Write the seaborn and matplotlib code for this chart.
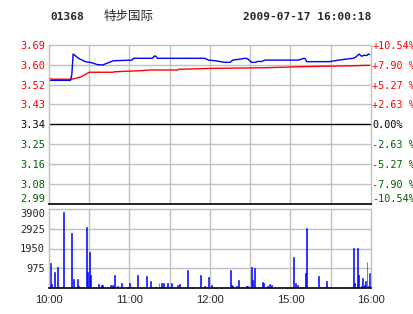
import numpy as np
import pandas as pd
import matplotlib
matplotlib.use("Agg")
import matplotlib.pyplot as plt
import seaborn as sns

# ---------------- data ----------------
code = "01368"
name = "特步国际"
stamp = "2009-07-17 16:00:18"
prev_close = 3.34

# minutes since 10:00 on a trading-time axis (10:00-12:30, 14:30-16:00 -> 0..240)
price_t = [0, 16, 17, 18, 22, 27, 32, 36, 40, 44, 48, 62, 63, 77, 78, 79, 81, 116, 119, 124,
           131, 135, 137, 142, 146, 148, 151, 154, 156, 158, 161, 186, 190, 191, 192, 209,
           216, 221, 227, 229, 231, 233, 235, 237, 238, 239]
price_v = [3.535, 3.535, 3.560, 3.652, 3.633, 3.618, 3.613, 3.605, 3.603, 3.613, 3.622, 3.625,
           3.633, 3.633, 3.640, 3.644, 3.633, 3.633, 3.625, 3.622, 3.615, 3.615, 3.625, 3.629,
           3.633, 3.631, 3.615, 3.615, 3.620, 3.618, 3.625, 3.625, 3.633, 3.631, 3.618, 3.618,
           3.625, 3.629, 3.633, 3.640, 3.652, 3.642, 3.647, 3.645, 3.652, 3.649]

avg_t = [0, 2, 17, 20, 24, 30, 48, 48.5, 69, 75, 96, 96.5, 120, 161, 190, 228, 239]
avg_v = [3.547, 3.540, 3.540, 3.544, 3.551, 3.571, 3.571, 3.573, 3.578, 3.581, 3.581, 3.584,
         3.588, 3.591, 3.596, 3.600, 3.602]

vol_t = [0, 1, 2, 4, 6, 11, 17, 18, 21, 22, 28, 29, 30, 31, 37, 39, 40, 46, 47, 49, 51, 54,
         60, 66, 73, 76, 79, 82, 84, 85, 88, 91, 96, 97, 103, 113, 116, 119, 121, 135, 136,
         137, 140, 141, 147, 148, 151, 152, 153, 159, 160, 163, 164, 166, 182, 184, 185, 191,
         192, 201, 207, 227, 228, 230, 231, 233, 234, 235, 236, 237, 238, 239]
vol_v = [1240, 1240, 200, 800, 1040, 3760, 2720, 450, 450, 100, 3010, 780, 1780, 640, 200, 160,
         160, 160, 160, 640, 100, 250, 250, 640, 600, 350, 100, 250, 250, 250, 250, 250, 150,
         200, 890, 640, 100, 540, 160, 890, 160, 100, 100, 400, 100, 100, 1040, 400, 990, 280,
         250, 100, 200, 150, 1530, 250, 150, 740, 2960, 590, 350, 1970, 250, 1970, 640, 100,
         500, 150, 350, 1280, 100, 740]

pct_labels = ["+10.54%", "+7.90 %", "+5.27 %", "+2.63 %", "0.00%",
              "-2.63 %", "-5.27 %", "-7.90 %", "-10.54%"]
price_labels = ["3.69", "3.60", "3.52", "3.43", "3.34", "3.25", "3.16", "3.08", "2.99"]
vol_ticks = [975, 1950, 2925, 3900]
time_ticks = [0, 60, 120, 180, 240]
time_labels = ["10:00", "11:00", "12:00", "15:00", "16:00"]

# ---------------- style ----------------
sns.set_style("white")
plt.rcParams["font.family"] = ["DejaVu Sans Mono", "Noto Sans CJK SC"]

GRID = "#c0c0c0"
RED = "#ff0000"
GREEN = "#006000"
W, H = 414, 314

fig = plt.figure(figsize=(W / 100, H / 100), dpi=100)
fig.patch.set_facecolor("white")

def frac(x0, y0, x1, y1):
    return [x0 / W, 1 - y1 / H, (x1 - x0) / W, (y1 - y0) / H]

axp = fig.add_axes(frac(49, 45, 371, 203.5))
axv = fig.add_axes(frac(49, 209, 371, 288))

span = 0.352
levels = prev_close + span * np.linspace(1, -1, 9)

# price panel
for t in range(30, 240, 30):
    axp.axvline(t, color=GRID, lw=1, zorder=0)
for lv in levels[1:-1]:
    axp.axhline(lv, color="black" if np.isclose(lv, prev_close) else GRID, lw=1, zorder=0)

df_p = pd.DataFrame({"t": price_t, "p": price_v})
df_a = pd.DataFrame({"t": avg_t, "p": avg_v})
sns.lineplot(data=df_a, x="t", y="p", color=RED, lw=1, estimator=None, sort=False, ax=axp)
sns.lineplot(data=df_p, x="t", y="p", color="blue", lw=1, estimator=None, sort=False, ax=axp)

axp.set_xlim(0, 240)
axp.set_ylim(prev_close - span, prev_close + span)
axp.set_xlabel("")
axp.set_ylabel("")
axp.set_xticks([])
axp.set_yticks(levels)
axp.set_yticklabels(price_labels)
axp.tick_params(axis="y", length=0, pad=3, labelsize=7.5)
for i, lab in enumerate(axp.get_yticklabels()):
    lab.set_color(RED if i < 4 else ("black" if i == 4 else GREEN))
    if i == 8:
        lab.set_va("bottom")
for s in ["left", "top", "right"]:
    axp.spines[s].set_color(GRID)
    axp.spines[s].set_linewidth(1)
axp.spines["bottom"].set_color("black")
axp.spines["bottom"].set_linewidth(1.2)

axr = axp.twinx()
axr.set_ylim(axp.get_ylim())
axr.set_yticks(levels)
axr.set_yticklabels(pct_labels)
axr.tick_params(axis="y", length=0, pad=1, labelsize=7.3)
for i, lab in enumerate(axr.get_yticklabels()):
    lab.set_color(RED if i < 4 else ("black" if i == 4 else GREEN))
    if i == 8:
        lab.set_va("bottom")
for s in axr.spines.values():
    s.set_visible(False)

# volume panel
for t in range(30, 240, 30):
    axv.axvline(t, color=GRID, lw=1, zorder=0)
for v in vol_ticks[:-1]:
    axv.axhline(v, color=GRID, lw=1, zorder=0)

df_v = pd.DataFrame({"t": vol_t, "v": vol_v})
sns.barplot(data=df_v, x="t", y="v", native_scale=True, color="#0000ff", saturation=1,
            width=0.7, linewidth=0.4, edgecolor="#0000ff", ax=axv, zorder=2)
axv.set_xlim(0, 240)
axv.set_ylim(0, 3900)
axv.set_xlabel("")
axv.set_ylabel("")
axv.set_yticks(vol_ticks)
axv.set_yticklabels([str(v) for v in vol_ticks])
axv.tick_params(axis="y", length=0, pad=3, labelsize=7.5)
axv.get_yticklabels()[-1].set_va("top")
axv.set_xticks(time_ticks)
axv.set_xticklabels(time_labels, fontfamily="Liberation Sans", fontsize=8)
axv.tick_params(axis="x", length=0, pad=5)
for s in ["left", "top", "right"]:
    axv.spines[s].set_color(GRID)
    axv.spines[s].set_linewidth(1)
axv.spines["bottom"].set_color("black")
axv.spines["bottom"].set_linewidth(1.2)

# header
fig.text(50 / W, 1 - 17 / H, code, fontsize=8, fontweight="bold", va="center", ha="left",
         family=["DejaVu Sans Mono"])
fig.text(104 / W, 1 - 16 / H, name, fontsize=9, va="center", ha="left",
         family=["Noto Sans CJK SC", "DejaVu Sans"])
fig.text(371 / W, 1 - 17 / H, stamp, fontsize=8, fontweight="bold", va="center", ha="right",
         family=["DejaVu Sans Mono"])

fig.savefig("out.png", dpi=100, facecolor="white")
